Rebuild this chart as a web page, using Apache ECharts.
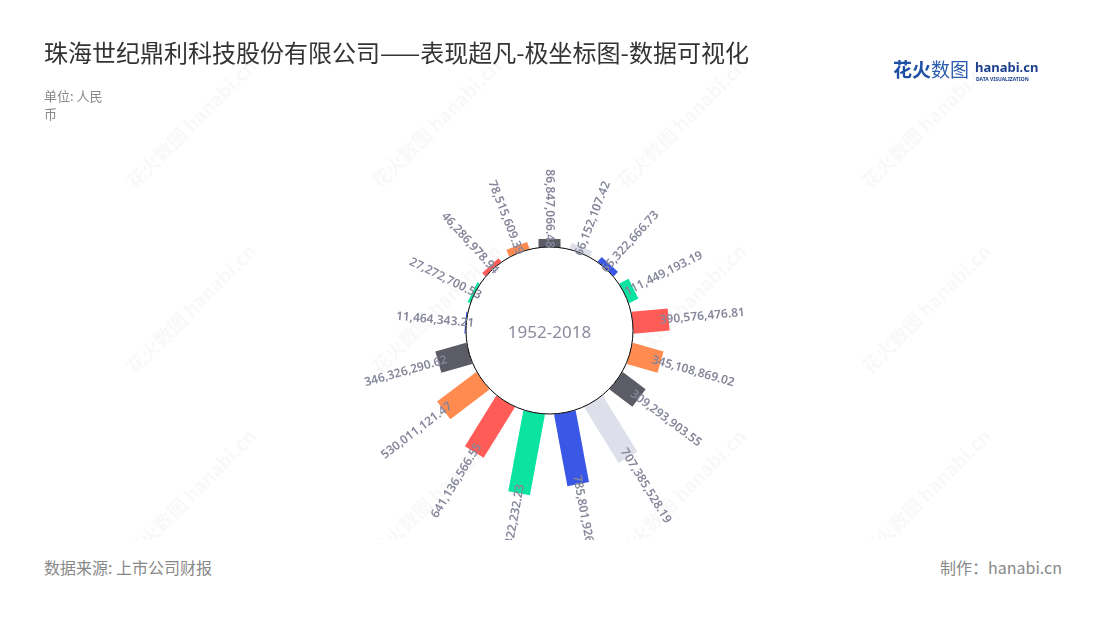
<!DOCTYPE html>
<html><head><meta charset="utf-8">
<script src="https://cdn.jsdelivr.net/npm/echarts@6/dist/echarts.min.js"></script>
<style>
html,body{margin:0;padding:0;background:#fff;width:1100px;height:620px;overflow:hidden;font-family:"Noto Sans CJK SC","Noto Sans",sans-serif;}
#chart{position:absolute;left:0;top:0;width:1100px;height:540px;}
.foot{position:absolute;top:556px;font-size:16px;color:#888;line-height:22px;font-family:"Noto Sans CJK SC","Noto Sans",sans-serif;}
</style></head><body>
<div id="chart"></div>
<div class="foot" style="left:44px">数据来源: 上市公司财报</div>
<div class="foot" style="right:38px">制作：hanabi.cn</div>
<script>
// ---- data ----
const titleText = '珠海世纪鼎利科技股份有限公司——表现超凡-极坐标图-数据可视化';
const unitText = '单位: 人民币';
const periodLabel = '1952-2018';
const categories = ['2002','2003','2004','2005','2006','2007','2008','2009','2010','2011','2012','2013','2014','2015','2016','2017','2018'];
const values = [86847066.48, 66152107.42, 65322666.73, 111449193.19, 390576476.81, 345108869.02,
  309293903.55, 707385528.19, 785801926.64, 886422232.23, 641136566.55, 530011121.47,
  346326290.62, 11464343.21, 27272700.53, 46286978.94, 78515609.39];
const radiusMax = 1000000000;

// ---- styles ----
const palette = ['#5b5c66', '#dde0ea', '#3b57e6', '#0be3a0', '#ff5b57', '#ff8b50'];
const colorIndex = [0,1,2,3,4,5,0,1,2,3,4,5,0,2,3,4,5];
const BAR_W = 22;
const LABEL_INSET = 9;
const labelColor = '#85869a';

function fmt(v) {
  return v.toLocaleString('en-US', {minimumFractionDigits: 2, maximumFractionDigits: 2});
}

function renderItem(params, api) {
  const cs = params.coordSys;
  const idx = params.dataIndex;
  const cat = api.value(0), val = api.value(1);
  const p0 = api.coord([0, cat]);
  const p1 = api.coord([val, cat]);
  const dx = p1[0] - cs.cx, dy = p1[1] - cs.cy;
  const len = Math.hypot(dx, dy);
  const ux = dx / len, uy = dy / len;
  const hw = BAR_W / 2;
  const nx = -uy * hw, ny = ux * hw;
  const pts = [[p0[0]+nx, p0[1]+ny], [p1[0]+nx, p1[1]+ny], [p1[0]-nx, p1[1]-ny], [p0[0]-nx, p0[1]-ny]];
  const ra = len - LABEL_INSET;
  const ax = cs.cx + ux * ra, ay = cs.cy + uy * ra;
  const phi = Math.atan2(-uy, ux);
  const outward = ux > 1e-3;
  const children = [
    {type: 'polygon', shape: {points: pts}, style: {fill: palette[colorIndex[idx]]}, z2: 1},
    {type: 'text', x: ax, y: ay, rotation: outward ? phi : phi + Math.PI, z2: 10,
      style: {text: fmt(val), align: outward ? 'left' : 'right', verticalAlign: 'middle',
        fill: labelColor, font: '600 12px "Noto Sans", sans-serif'}}
  ];
  if (idx === 0) {
    children.push({type: 'circle', shape: {cx: cs.cx, cy: cs.cy, r: cs.r0}, z2: 5,
      style: {fill: '#fff', stroke: '#000', lineWidth: 1}});
    children.push({type: 'text', x: cs.cx, y: cs.cy + 3, z2: 6,
      style: {text: periodLabel, align: 'center', verticalAlign: 'middle', fill: '#8a8b9c',
        font: '17px "Noto Sans", sans-serif'}});
  }
  return {type: 'group', children: children};
}

// watermark positions (layout)
const wmX = [130, 375, 620, 865];
const wmY = [185, 370, 555];
const watermarks = [];
wmY.forEach(y => wmX.forEach(x => {
  watermarks.push({type: 'text', x: x, y: y, rotation: Math.PI / 4, z: -10, silent: true,
    style: {text: '花火数图 hanabi.cn', fill: 'rgba(0,0,0,0.028)',
      font: 'bold 19px "Noto Sans CJK SC", sans-serif', verticalAlign: 'middle'}});
}));

const chart = echarts.init(document.getElementById('chart'), null, {renderer: 'canvas'});
chart.setOption({
  backgroundColor: 'transparent',
  animation: false,
  title: [
    {text: titleText, left: 44, top: 41, padding: 0,
      textStyle: {fontSize: 24, fontWeight: 'normal', color: '#333', fontFamily: '"Noto Sans CJK SC", sans-serif'}},
    {text: unitText, left: 44, top: 87, padding: 0,
      textStyle: {fontSize: 13, fontWeight: 'normal', color: '#888', width: 66, overflow: 'break', lineHeight: 18,
        fontFamily: '"Noto Sans CJK SC", sans-serif'}}
  ],
  graphic: watermarks.concat([
    {type: 'text', left: 893, top: 60, z: 10, silent: true,
      style: {text: '{a|花火}{b|数图}', rich: {
        a: {fontSize: 19, fontWeight: 'bold', fill: '#1f4fa3', fontFamily: '"Noto Sans CJK SC", sans-serif'},
        b: {fontSize: 19, fontWeight: 'normal', fill: '#2b5cb0', fontFamily: '"Noto Sans CJK SC", sans-serif'}}}},
    {type: 'text', left: 975, top: 62, z: 10, silent: true,
      style: {text: 'hanabi.cn', fill: '#1c3f8e', font: 'bold 13px "Noto Sans", sans-serif'}},
    {type: 'text', left: 976, top: 77, z: 10, silent: true,
      style: {text: 'DATA VISUALIZATION', fill: '#1c3f8e', font: 'bold 5px "Noto Sans", sans-serif'}}
  ]),
  polar: {center: [549.5, 330.5], radius: [83.5, 176.1]},
  angleAxis: {type: 'category', data: categories, startAngle: 90 + 180 / categories.length, clockwise: true,
    axisLine: {show: false}, axisTick: {show: false}, axisLabel: {show: false}, splitLine: {show: false}},
  radiusAxis: {type: 'value', min: 0, max: radiusMax,
    axisLine: {show: false}, axisTick: {show: false}, axisLabel: {show: false}, splitLine: {show: false}},
  series: [{
    type: 'custom',
    coordinateSystem: 'polar',
    renderItem: renderItem,
    encode: {angle: 0, radius: 1},
    data: categories.map((c, i) => [i, values[i]])
  }]
});
</script>
</body></html>
